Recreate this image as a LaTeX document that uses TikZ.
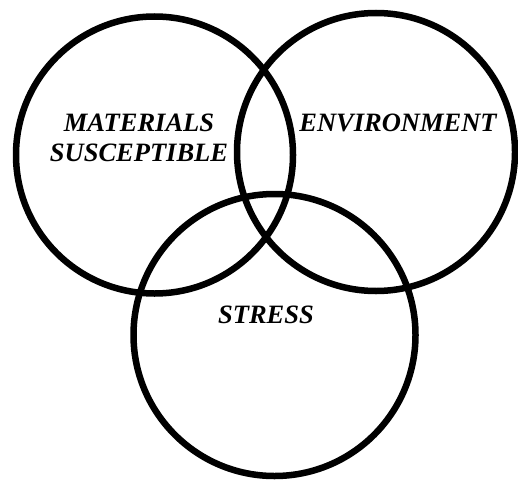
\documentclass[tikz,border=0pt]{standalone}
\usepackage{fontspec}
\setmainfont{Liberation Serif}
\usepackage{tikz}

\begin{document}
\begin{tikzpicture}[
            x=1pt, y=1pt,
            ring/.style={circle, draw=black, line width=6.5pt, inner sep=0pt},
            tag/.style={font=\fontsize{26.5}{30}\selectfont\bfseries\itshape, align=center, inner sep=0pt}
        ]
            \useasboundingbox (0,0) rectangle (518,480);

            % Circles
            \node[ring, minimum size=277pt] (materials) at (154.5,325) {};
            \node[ring, minimum size=278pt] (environment) at (376,328) {};
            \node[ring, minimum size=282pt] (stress) at (274.5,145) {};

            % Labels
            \node[tag] (matlabel) at (139,342) {MATERIALS\\SUSCEPTIBLE};
            \node[tag] (envlabel) at (398,357) {ENVIRONMENT};
            \node[tag] (strlabel) at (266,165) {STRESS};
        \end{tikzpicture}
\end{document}
